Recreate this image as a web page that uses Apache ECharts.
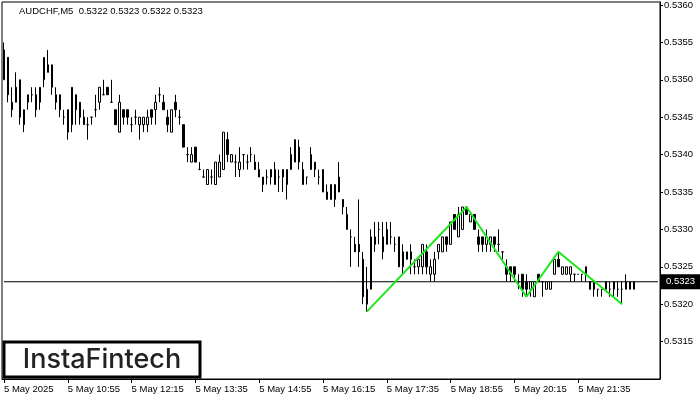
<!DOCTYPE html>
<html>
<head>
<meta charset="utf-8">
<script src="https://cdn.jsdelivr.net/npm/echarts@6/dist/echarts.min.js"></script>
<style>html,body{margin:0;padding:0;background:#fff}#c{width:700px;height:400px}</style>
</head>
<body>
<div id="c"></div>
<script>
// AUDCHF M5, 5 May 2025, first bar 09:35, one bar every 5 minutes
var startTime = '09:35';
var xTickLabels = ['5 May 2025','5 May 10:55','5 May 12:15','5 May 13:35','5 May 14:55','5 May 16:15','5 May 17:35','5 May 18:55','5 May 20:15','5 May 21:35'];
var yTickLabels = ['0.5315','0.5320','0.5325','0.5330','0.5335','0.5340','0.5345','0.5350','0.5355','0.5360'];

var opens = [
0.5350,0.5353,0.5347,0.5347,0.5350,0.5344,0.5347,0.5348,0.5348,0.5347,
0.5350,0.5352,0.5352,0.5348,0.5348,0.5345,0.5346,0.5344,0.5348,0.5347,
0.5344,0.5344,0.5345,0.5346,0.5347,0.5348,0.5349,0.5347,0.5346,0.5343,
0.5346,0.5346,0.5344,0.5345,0.5344,0.5344,0.5344,0.5346,0.5346,0.5348,
0.5347,0.5345,0.5343,0.5347,0.5345,0.5344,0.5340,0.5339,0.5341,0.5338,
0.5337,0.5336,0.5337,0.5336,0.5337,0.5338,0.5342,0.5339,0.5339,0.5338,
0.5340,0.5339,0.5340,0.5339,0.5337,0.5337,0.5337,0.5338,0.5336,0.5337,
0.5338,0.5336,0.5338,0.5339,0.5341,0.5338,0.5337,0.5338,0.5338,0.5337,
0.5338,0.5334,0.5334,0.5334,0.5337,0.5334,0.5332,0.5329,0.5328,0.5328,
0.5326,0.5320,0.5322,0.5328,0.5330,0.5329,0.5328,0.5329,0.5328,0.5329,
0.5325,0.5326,0.5326,0.5325,0.5325,0.5325,0.5327,0.5324,0.5324,0.5327,
0.5327,0.5329,0.5328,0.5332,0.5329,0.5330,0.5333,0.5331,0.5332,0.5329,
0.5329,0.5328,0.5328,0.5329,0.5328,0.5327,0.5325,0.5325,0.5325,0.5323,
0.5324,0.5323,0.5322,0.5321,0.5324,0.5323,0.5322,0.5322,0.5324,0.5326,
0.5324,0.5324,0.5324,0.5324,0.5324,0.5324,0.5325,0.5323,0.5323,0.5322,
0.5322,0.5322,0.5322,0.5322,0.5322,0.5322,0.5322,0.5322,0.5322];
var closes = [
0.5354,0.5348,0.5346,0.5349,0.5345,0.5346,0.5348,0.5348,0.5346,0.5349,
0.5353,0.5351,0.5349,0.5347,0.5346,0.5345,0.5343,0.5349,0.5346,0.5345,
0.5345,0.5344,0.5345,0.5346,0.5349,0.5348,0.5348,0.5347,0.5344,0.5347,
0.5345,0.5345,0.5344,0.5345,0.5345,0.5345,0.5345,0.5345,0.5347,0.5348,
0.5346,0.5344,0.5346,0.5346,0.5345,0.5341,0.5340,0.5340,0.5339,0.5338,
0.5337,0.5338,0.5337,0.5339,0.5339,0.5343,0.5340,0.5340,0.5339,0.5339,
0.5340,0.5339,0.5340,0.5338,0.5338,0.5336,0.5337,0.5337,0.5338,0.5337,
0.5337,0.5338,0.5340,0.5342,0.5339,0.5336,0.5337,0.5340,0.5339,0.5337,
0.5335,0.5335,0.5336,0.5336,0.5335,0.5333,0.5330,0.5329,0.5327,0.5327,
0.5321,0.5322,0.5329,0.5329,0.5330,0.5327,0.5330,0.5329,0.5328,0.5325,
0.5327,0.5327,0.5327,0.5325,0.5326,0.5328,0.5325,0.5325,0.5326,0.5328,
0.5329,0.5328,0.5331,0.5330,0.5332,0.5333,0.5332,0.5332,0.5330,0.5328,
0.5328,0.5329,0.5329,0.5328,0.5328,0.5327,0.5324,0.5324,0.5324,0.5323,
0.5322,0.5322,0.5323,0.5323,0.5323,0.5323,0.5323,0.5323,0.5326,0.5325,
0.5325,0.5325,0.5325,0.5324,0.5324,0.5324,0.5324,0.5322,0.5322,0.5322,
0.5322,0.5323,0.5322,0.5323,0.5322,0.5322,0.5323,0.5323,0.5323];
var lows = [
0.5350,0.5347,0.5345,0.5347,0.5344,0.5343,0.5346,0.5347,0.5345,0.5346,
0.5349,0.5351,0.5348,0.5346,0.5345,0.5344,0.5342,0.5343,0.5344,0.5344,
0.5344,0.5342,0.5344,0.5345,0.5346,0.5348,0.5348,0.5347,0.5344,0.5343,
0.5344,0.5344,0.5343,0.5344,0.5342,0.5343,0.5343,0.5344,0.5344,0.5347,
0.5346,0.5343,0.5343,0.5345,0.5344,0.5341,0.5339,0.5339,0.5339,0.5338,
0.5337,0.5336,0.5336,0.5336,0.5337,0.5338,0.5339,0.5339,0.5337,0.5337,
0.5338,0.5338,0.5339,0.5338,0.5337,0.5335,0.5336,0.5336,0.5336,0.5335,
0.5335,0.5334,0.5338,0.5339,0.5338,0.5336,0.5336,0.5338,0.5337,0.5336,
0.5335,0.5334,0.5334,0.5333,0.5335,0.5332,0.5330,0.5325,0.5327,0.5325,
0.5320,0.5319,0.5322,0.5327,0.5328,0.5326,0.5328,0.5328,0.5327,0.5325,
0.5324,0.5326,0.5324,0.5324,0.5324,0.5324,0.5324,0.5323,0.5323,0.5326,
0.5327,0.5327,0.5328,0.5330,0.5329,0.5330,0.5332,0.5331,0.5330,0.5327,
0.5327,0.5327,0.5327,0.5327,0.5327,0.5326,0.5323,0.5323,0.5323,0.5322,
0.5321,0.5321,0.5321,0.5321,0.5323,0.5321,0.5322,0.5322,0.5324,0.5325,
0.5324,0.5324,0.5323,0.5323,0.5324,0.5323,0.5323,0.5322,0.5321,0.5321,
0.5321,0.5322,0.5321,0.5321,0.5321,0.5320,0.5322,0.5322,0.5322];
var highs = [
0.5355,0.5353,0.5349,0.5351,0.5350,0.5346,0.5348,0.5349,0.5349,0.5349,
0.5353,0.5354,0.5352,0.5349,0.5348,0.5346,0.5346,0.5349,0.5348,0.5347,
0.5346,0.5345,0.5345,0.5348,0.5349,0.5350,0.5349,0.5350,0.5346,0.5348,
0.5346,0.5346,0.5345,0.5346,0.5345,0.5345,0.5346,0.5346,0.5348,0.5349,
0.5348,0.5346,0.5346,0.5348,0.5346,0.5344,0.5341,0.5341,0.5341,0.5339,
0.5338,0.5338,0.5338,0.5339,0.5340,0.5343,0.5343,0.5340,0.5340,0.5341,
0.5340,0.5340,0.5341,0.5340,0.5339,0.5337,0.5338,0.5338,0.5339,0.5338,
0.5338,0.5338,0.5341,0.5342,0.5342,0.5339,0.5337,0.5341,0.5339,0.5338,
0.5338,0.5336,0.5336,0.5336,0.5339,0.5334,0.5333,0.5330,0.5329,0.5334,
0.5327,0.5325,0.5330,0.5331,0.5331,0.5331,0.5331,0.5331,0.5329,0.5329,
0.5328,0.5327,0.5328,0.5326,0.5326,0.5328,0.5328,0.5326,0.5327,0.5328,
0.5329,0.5329,0.5331,0.5332,0.5333,0.5333,0.5333,0.5332,0.5332,0.5330,
0.5329,0.5330,0.5329,0.5329,0.5330,0.5327,0.5326,0.5325,0.5325,0.5324,
0.5324,0.5324,0.5323,0.5323,0.5324,0.5323,0.5323,0.5323,0.5326,0.5327,
0.5325,0.5325,0.5325,0.5324,0.5324,0.5324,0.5325,0.5323,0.5323,0.5322,
0.5322,0.5323,0.5323,0.5323,0.5323,0.5323,0.5324,0.5323,0.5323];

// pattern (green) pivot points: bar index and price
var patternIdx = [91, 116, 131, 139, 155];
var patternVal = [0.5319, 0.5333, 0.5321, 0.5327, 0.5320];
var lastPrice = 0.5323;
var titleText = 'AUDCHF,M5  0.5322 0.5323 0.5322 0.5323';

var nBars = opens.length;
var extraSlots = 6;
var categories = [];
var sh = parseInt(startTime.slice(0,2),10), sm = parseInt(startTime.slice(3),10);
for (var i = 0; i < nBars + extraSlots; i++) {
  var t = sh*60 + sm + 5*i;
  var hh = Math.floor(t/60) % 24, mm = t % 60;
  categories.push((hh<10?'0':'')+hh+':'+(mm<10?'0':'')+mm);
}
var ohlc = [];
for (var k = 0; k < nBars; k++) ohlc.push([opens[k], closes[k], lows[k], highs[k]]);
var pattern = patternIdx.map(function(x, j){ return [x, patternVal[j]]; });
var priceLine = [[0, lastPrice], [categories.length - 1, lastPrice]];

var FONT = 'Liberation Sans';
function tickShow(idx){ return idx % 16 === 0 && idx < nBars; }

var chart = echarts.init(document.getElementById('c'), null, {renderer:'canvas'});
chart.setOption({
  animation: false,
  backgroundColor: '#fff',
  grid: {left: 2, right: 40, top: 2, bottom: 21, show: true, borderColor: '#000', borderWidth: 1, backgroundColor: 'transparent'},
  xAxis: {
    type: 'category', data: categories, boundaryGap: true,
    axisLine: {show: true, lineStyle: {color: '#000', width: 1}},
    axisTick: {show: true, alignWithLabel: true, interval: function(idx){ return tickShow(idx); }, length: 4, lineStyle: {color: '#000'}},
    axisLabel: {show: true, interval: function(idx){ return tickShow(idx); }, align: 'left', margin: 5,
      color: '#000', fontFamily: FONT, fontSize: 9.5,
      formatter: function(v, idx){ return xTickLabels[idx/16] || ''; }},
    splitLine: {show: false}
  },
  yAxis: {
    type: 'value', position: 'right', min: 0.5310, max: 0.53604, interval: 0.0005, scale: true,
    axisLine: {show: true, lineStyle: {color: '#000', width: 1}},
    axisTick: {show: true, inside: false, length: 3, lineStyle: {color: '#000'}},
    axisLabel: {show: true, showMinLabel: false, showMaxLabel: false, margin: 4, color: '#000', fontFamily: FONT, fontSize: 9.5,
      formatter: function(v){ var s = v.toFixed(4); return yTickLabels.indexOf(s) >= 0 ? s : ''; }},
    splitLine: {show: false}
  },
  series: [
    {
      type: 'line', data: priceLine, symbol: 'none', z: 1, silent: true, clip: false,
      lineStyle: {color: '#000', width: 1},
      endLabel: {show: true, formatter: lastPrice.toFixed(4), distance: 3,
        color: '#fff', backgroundColor: '#000', padding: [3,6,2,5], fontFamily: FONT, fontSize: 9.5}
    },
    {
      type: 'candlestick', data: ohlc, barWidth: 2, z: 2,
      itemStyle: {color: '#fff', color0: '#000', borderColor: '#000', borderColor0: '#000', borderWidth: 1}
    },
    {
      type: 'line', data: pattern, symbol: 'none', z: 5,
      lineStyle: {color: '#1ee61e', width: 2}
    }
  ],
  graphic: [
    {type: 'text', left: 19, top: 6, z: 10, style: {text: titleText, fill: '#000', font: '9.5px "' + FONT + '"'}},
    {type: 'rect', z: 10, shape: {x: 4, y: 342, width: 196, height: 35}, style: {fill: '#fff', stroke: '#000', lineWidth: 3}},
    {type: 'text', z: 11, x: 102, y: 360, style: {text: 'InstaFintech', fill: '#222', font: '500 27px Inter', align: 'center', verticalAlign: 'middle'}}
  ]
});
</script>
</body>
</html>
